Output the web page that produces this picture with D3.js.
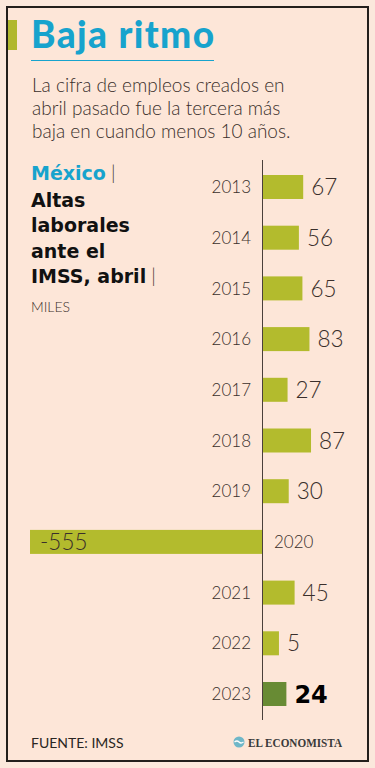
<!DOCTYPE html>
<html>
<head>
<meta charset="utf-8">
<script src="https://cdn.jsdelivr.net/npm/d3@7"></script>
<style>
  html, body { margin: 0; padding: 0; background: #fbe8dc; }
  svg { display: block; font-family: Lato, "Open Sans", sans-serif; }
</style>
</head>
<body>
<div id="chart"></div>
<script>
// data (miles de altas, abril)
const years = ['2013','2014','2015','2016','2017','2018','2019','2020','2021','2022','2023'];
const altas = [67, 56, 65, 83, 27, 87, 30, -555, 45, 5, 24];
const subtitleLines = ['La cifra de empleos creados en', 'abril pasado fue la tercera más', 'baja en cuando menos 10 años.'];
const labelLines = ['Altas', 'laborales', 'ante el', 'IMSS, abril'];

const width = 375, height = 768;
const axisX = 262;
const dark = '#3a2f2b';
const cyan = '#17a3cd';
const boldFont = '"DejaVu Sans", Lato, sans-serif';

const svg = d3.select('#chart').append('svg')
    .attr('width', width)
    .attr('height', height);

// frame
svg.append('rect').attr('width', width).attr('height', height).attr('fill', '#fbe8dc');
svg.append('rect')
    .attr('x', 7).attr('y', 7).attr('width', 361).attr('height', 754)
    .attr('fill', '#fde6d8').attr('stroke', '#231f1c').attr('stroke-width', 2);

// title
svg.append('rect').attr('x', 8).attr('y', 20).attr('width', 9).attr('height', 30).attr('fill', '#b1b82d');
svg.append('text')
    .attr('x', 31).attr('y', 48)
    .attr('fill', cyan).attr('font-size', 37).attr('font-weight', 900)
    .attr('textLength', 183).attr('lengthAdjust', 'spacing')
    .text('Baja ritmo');
svg.append('line')
    .attr('x1', 31).attr('x2', 214).attr('y1', 60.5).attr('y2', 60.5)
    .attr('stroke', cyan).attr('stroke-width', 1);

svg.append('g').selectAll('text')
    .data(subtitleLines)
    .join('text')
    .attr('x', 32)
    .attr('y', (d, i) => 92 + i * 23)
    .attr('fill', dark).attr('font-size', 19).attr('font-weight', 300)
    .text(d => d);

// left label block
const lab = svg.append('g');
const mx = lab.append('text').attr('x', 31).attr('y', 180).attr('font-size', 19).attr('font-weight', 700)
    .attr('font-family', boldFont);
mx.append('tspan').attr('fill', cyan).text('México');
mx.append('tspan').attr('fill', dark).attr('font-weight', 300).attr('font-family', 'Lato').text(' |');
lab.selectAll('text.l')
    .data(labelLines)
    .join('text')
    .attr('class', 'l')
    .attr('x', 31)
    .attr('y', (d, i) => 206.5 + i * 25.5)
    .attr('fill', '#111').attr('font-size', 19).attr('font-weight', 700)
    .attr('font-family', boldFont)
    .each(function(d, i) {
        d3.select(this).append('tspan').text(d);
        if (i === labelLines.length - 1)
            d3.select(this).append('tspan').attr('fill', dark).attr('font-weight', 300)
                .attr('font-family', 'Lato').text(' |');
    });
lab.append('text')
    .attr('x', 31).attr('y', 312)
    .attr('fill', dark).attr('font-size', 14).attr('font-weight', 300)
    .text('MILES');

// scales
const y = d3.scalePoint().domain(years).range([187, 694]);
const len = d3.scaleLinear().domain([0, 555]).range([15, 232]);
const barH = 24;
const data = years.map((yr, i) => ({ year: yr, value: altas[i] }));

const chart = svg.append('g');

chart.selectAll('rect')
    .data(data)
    .join('rect')
    .attr('x', d => d.value < 0 ? axisX - len(-d.value) : axisX)
    .attr('y', d => y(d.year) - barH / 2)
    .attr('width', d => len(Math.abs(d.value)))
    .attr('height', barH)
    .attr('fill', d => d.year === '2023' ? '#688b34' : '#b3bb2d');

chart.append('line')
    .attr('x1', axisX + 0.5).attr('x2', axisX + 0.5)
    .attr('y1', 160).attr('y2', 720)
    .attr('stroke', '#4a403b').attr('stroke-width', 1);

// year labels
chart.selectAll('text.year')
    .data(data)
    .join('text')
    .attr('class', 'year')
    .attr('x', d => d.value < 0 ? axisX + 12 : axisX - 11)
    .attr('y', d => y(d.year))
    .attr('dy', '0.36em')
    .attr('text-anchor', d => d.value < 0 ? 'start' : 'end')
    .attr('fill', dark).attr('font-size', 17).attr('font-weight', 300)
    .text(d => d.year);

// value labels
chart.selectAll('text.val')
    .data(data)
    .join('text')
    .attr('class', 'val')
    .attr('x', d => d.value < 0 ? axisX - len(-d.value) + 10 : axisX + len(d.value) + 8)
    .attr('y', d => y(d.year))
    .attr('dy', '0.36em')
    .attr('fill', d => d.year === '2023' ? '#000' : dark)
    .attr('font-size', d => d.year === '2023' ? 24 : 22.5)
    .attr('font-weight', d => d.year === '2023' ? 700 : 300)
    .attr('font-family', d => d.year === '2023' ? boldFont : null)
    .text(d => d.value);

// footer
svg.append('text')
    .attr('x', 31).attr('y', 748)
    .attr('fill', '#2a2623').attr('font-size', 14).attr('font-weight', 400)
    .text('FUENTE: IMSS');
svg.append('circle').attr('cx', 239).attr('cy', 742).attr('r', 5.5).attr('fill', '#6fb7c8');
svg.append('path')
    .attr('d', 'M234.5,742 q2.5,-2 4.5,0 t4.5,0')
    .attr('fill', 'none').attr('stroke', '#fff').attr('stroke-width', 1.2);
svg.append('text')
    .attr('x', 248).attr('y', 746.5)
    .attr('fill', '#3a3a3a').attr('font-size', 12.5).attr('font-weight', 700)
    .attr('font-family', '"Liberation Serif", "DejaVu Serif", serif')
    .attr('textLength', 94).attr('lengthAdjust', 'spacingAndGlyphs')
    .text('EL ECONOMISTA');
</script>
</body>
</html>
